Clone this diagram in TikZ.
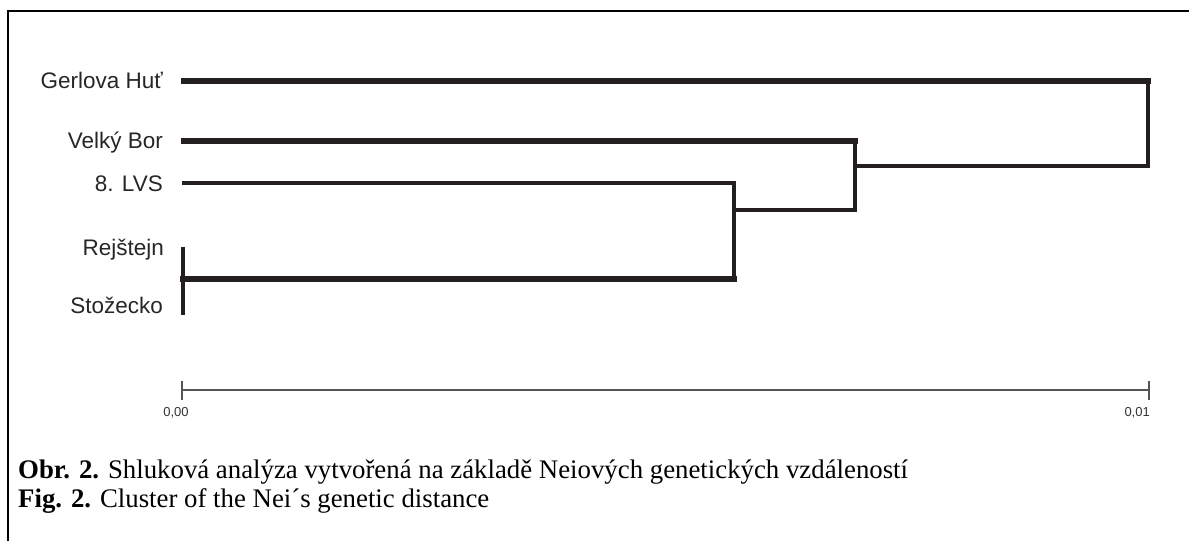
\documentclass[tikz,border=0pt]{standalone}
\usepackage{fontspec}
\setmainfont{Liberation Serif}
\newfontfamily\labfont{Liberation Sans}
\definecolor{ink}{RGB}{35,31,32}
\definecolor{axisgray}{RGB}{85,85,85}
\begin{document}
\begin{tikzpicture}[x=1pt,y=-1pt,
  thickbr/.style={draw=ink,line width=5.5pt,line cap=rect},
  thinbr/.style={draw=ink,line width=4pt,line cap=rect},
  leaflabel/.style={font=\labfont\fontsize{22.5}{26}\selectfont,text=black!85,anchor=base east,inner sep=0pt},
  ticklabel/.style={font=\labfont\fontsize{13}{15}\selectfont,text=black!80,inner sep=0pt},
  axisline/.style={draw=axisgray,line width=1.4pt},
  captxt/.style={font=\fontsize{26.8}{30}\selectfont,anchor=base west,inner sep=0pt}]
\useasboundingbox (0,0) rectangle (1189,541);
% frame
\draw[black,line width=1.8pt] (8,541) -- (8,11) -- (1189,11);
% labels
\node[leaflabel] (gh)  at (163,88)  {Gerlova Huť};
\node[leaflabel] (vb)  at (163,148) {Velký Bor};
\node[leaflabel] (lvs) at (163,191) {8. LVS};
\node[leaflabel] (rej) at (164,255) {Rejštejn};
\node[leaflabel] (sto) at (163,313) {Stožecko};
% leaf and joint coordinates
\coordinate (lgh)  at (184,81);
\coordinate (lvb)  at (184,141);
\coordinate (llvs) at (184,183);
\coordinate (lrej) at (183,249);
\coordinate (lsto) at (183,313);
\coordinate (j1)   at (183,279);
\coordinate (j1r)  at (734,279);
\coordinate (j2t)  at (734,183);
\coordinate (j2)   at (734,210);
\coordinate (j3r)  at (855,210);
\coordinate (j3t)  at (855,141);
\coordinate (j3)   at (855,166);
\coordinate (j4r)  at (1148,166);
\coordinate (j4t)  at (1148,81);
% dendrogram
\draw[thickbr] (lgh) -- (j4t);
\draw[thickbr] (lvb) -- (j3t);
\draw[thinbr] (llvs) -- (j2t);
\draw[thinbr] (lrej) -- (lsto);
\draw[thickbr] (j1) -- (j1r);
\draw[thinbr] (j1r) -- (j2t);
\draw[thinbr] (j2) -- (j3r);
\draw[thinbr] (j3r) -- (j3t);
\draw[thinbr] (j3) -- (j4r);
\draw[thinbr] (j4r) -- (j4t);
% axis
\coordinate (ax0) at (182,390);
\coordinate (ax1) at (1149,390);
\draw[axisline] (ax0) -- (ax1);
\draw[axisline] (182,381) -- (182,400);
\draw[axisline] (1149,381) -- (1149,400);
\node[ticklabel,anchor=base] (t0) at (176,416) {0,00};
\node[ticklabel,anchor=base east] (t1) at (1150,416) {0,01};
% caption
\node[captxt] (cap1) at (18,478) {\textbf{Obr. 2.} Shluková analýza vytvořená na základě Neiových genetických vzdáleností};
\node[captxt] (cap2) at (18,507) {\textbf{Fig. 2.} Cluster of the Nei´s genetic distance};
\end{tikzpicture}
\end{document}
